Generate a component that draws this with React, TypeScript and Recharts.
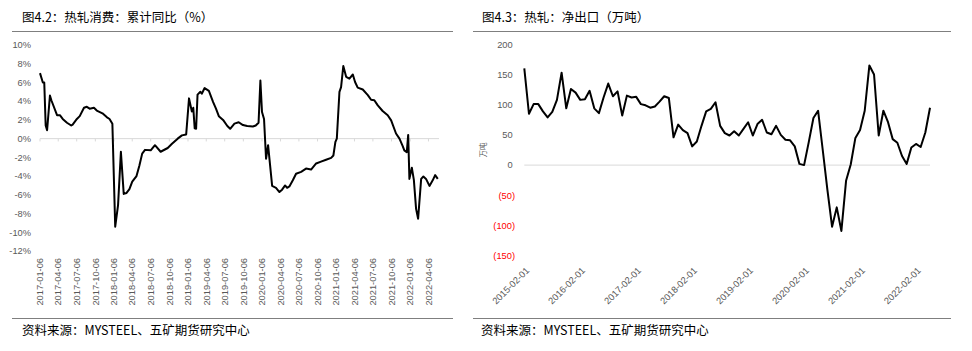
import React from 'react';
import { LineChart, Line, XAxis, YAxis, ReferenceLine } from 'recharts';

// 图4.2 热轧消费：累计同比（%）
const leftDates = [
  '2017-01-06', '2017-01-20', '2017-01-27', '2017-02-03', '2017-02-10', '2017-02-24', '2017-03-03',
  '2017-03-31', '2017-04-14', '2017-04-28', '2017-05-19', '2017-06-09', '2017-06-16', '2017-07-07',
  '2017-07-21', '2017-08-11', '2017-08-25', '2017-09-08', '2017-09-29', '2017-10-13', '2017-11-10',
  '2017-12-01', '2017-12-15', '2017-12-29', '2018-01-12', '2018-01-26', '2018-02-09', '2018-02-23',
  '2018-03-09', '2018-03-23', '2018-04-06', '2018-04-27', '2018-05-11', '2018-05-25', '2018-06-08',
  '2018-07-06', '2018-07-27', '2018-08-24', '2018-09-28', '2018-10-19', '2018-11-16', '2018-12-07',
  '2018-12-28', '2019-01-11', '2019-01-25', '2019-02-01', '2019-02-08', '2019-02-15', '2019-02-22',
  '2019-03-08', '2019-03-15', '2019-03-29', '2019-04-19', '2019-05-10', '2019-05-24', '2019-06-07',
  '2019-06-28', '2019-07-19', '2019-08-02', '2019-08-23', '2019-09-13', '2019-10-04', '2019-10-25',
  '2019-11-22', '2019-12-06', '2019-12-20', '2019-12-29', '2020-01-06', '2020-01-16', '2020-01-26',
  '2020-02-05', '2020-02-25', '2020-03-15', '2020-04-01', '2020-04-14', '2020-04-29', '2020-05-09',
  '2020-05-20', '2020-06-06', '2020-06-22', '2020-07-17', '2020-08-10', '2020-09-04', '2020-09-29',
  '2020-10-23', '2020-11-17', '2020-12-12', '2020-12-23', '2021-01-02', '2021-01-09', '2021-01-22',
  '2021-01-30', '2021-02-10', '2021-02-24', '2021-03-12', '2021-03-29', '2021-04-09', '2021-04-22',
  '2021-05-17', '2021-06-11', '2021-06-27', '2021-07-13', '2021-07-30', '2021-08-23', '2021-09-17',
  '2021-10-04', '2021-10-28', '2021-11-14', '2021-11-30', '2021-12-08', '2021-12-20', '2021-12-27',
  '2022-01-02', '2022-01-14', '2022-01-24', '2022-02-04', '2022-02-14', '2022-03-01', '2022-03-12',
  '2022-03-25', '2022-04-11', '2022-04-27', '2022-05-09', '2022-05-22',
];
const leftValues = [
  7.0, 6.0, 6.0, 1.4, 0.9, 4.6, 4.1,
  2.5, 2.5, 2.1, 1.7, 1.4, 1.5, 2.1,
  2.4, 3.3, 3.4, 3.2, 3.3, 3.0, 2.7,
  2.3, 2.1, 1.6, -9.4, -7.1, -1.4, -5.9,
  -5.8, -5.4, -4.6, -4.0, -2.9, -1.6, -1.2,
  -1.25, -0.7, -1.4, -1.0, -0.55, 0.0, 0.35,
  0.45, 4.3, 2.9, 3.3, 1.1, 1.05, 4.7,
  5.0, 4.8, 5.4, 5.1, 3.9, 3.2, 2.4,
  2.0, 1.35, 1.05, 1.6, 1.75, 1.45, 1.35,
  1.3, 1.4, 1.7, 6.2, 2.85, 2.1, -2.15,
  -0.7, -5.05, -5.25, -5.7, -5.45, -5.0, -5.25,
  -5.1, -4.45, -3.75, -3.55, -3.2, -3.3, -2.65,
  -2.45, -2.25, -2.05, -1.8, -0.35, 0.0, 5.0,
  5.5, 7.75, 6.6, 6.4, 6.85, 6.05, 5.45,
  5.25, 4.65, 4.15, 4.1, 3.55, 2.95, 2.5,
  1.95, 0.55, 0.0, -0.8, -1.25, -1.45, 0.4,
  -4.3, -3.1, -4.4, -7.5, -8.55, -4.3, -4.05,
  -4.3, -5.05, -4.45, -3.9, -4.3,
];
const leftTickDates = [
  '2017-01-06', '2017-04-06', '2017-07-06', '2017-10-06',
  '2018-01-06', '2018-04-06', '2018-07-06', '2018-10-06',
  '2019-01-06', '2019-04-06', '2019-07-06', '2019-10-06',
  '2020-01-06', '2020-04-06', '2020-07-06', '2020-10-06',
  '2021-01-06', '2021-04-06', '2021-07-06', '2021-10-06',
  '2022-01-06', '2022-04-06',
];
const leftYTicks = [-12, -10, -8, -6, -4, -2, 0, 2, 4, 6, 8, 10];

// 图4.3 热轧：净出口（万吨）
const rightMonths = [
  '2015-02-01', '2015-03-01', '2015-04-01', '2015-05-01', '2015-06-01', '2015-07-01', '2015-08-01', '2015-09-01', '2015-10-01', '2015-11-01', '2015-12-01',
  '2016-01-01', '2016-02-01', '2016-03-01', '2016-04-01', '2016-05-01', '2016-06-01', '2016-07-01', '2016-08-01', '2016-09-01', '2016-10-01', '2016-11-01', '2016-12-01',
  '2017-01-01', '2017-02-01', '2017-03-01', '2017-04-01', '2017-05-01', '2017-06-01', '2017-07-01', '2017-08-01', '2017-09-01', '2017-10-01', '2017-11-01', '2017-12-01',
  '2018-01-01', '2018-02-01', '2018-03-01', '2018-04-01', '2018-05-01', '2018-06-01', '2018-07-01', '2018-08-01', '2018-09-01', '2018-10-01', '2018-11-01', '2018-12-01',
  '2019-01-01', '2019-02-01', '2019-03-01', '2019-04-01', '2019-05-01', '2019-06-01', '2019-07-01', '2019-08-01', '2019-09-01', '2019-10-01', '2019-11-01', '2019-12-01',
  '2020-01-01', '2020-02-01', '2020-03-01', '2020-04-01', '2020-05-01', '2020-06-01', '2020-07-01', '2020-08-01', '2020-09-01', '2020-10-01', '2020-11-01', '2020-12-01',
  '2021-01-01', '2021-02-01', '2021-03-01', '2021-04-01', '2021-05-01', '2021-06-01', '2021-07-01', '2021-08-01', '2021-09-01', '2021-10-01', '2021-11-01', '2021-12-01',
  '2022-01-01', '2022-02-01', '2022-03-01', '2022-04-01', '2022-05-01',
];
const rightValues = [
  160, 85, 101, 101, 89, 79, 88, 108, 153, 94, 126,
  120, 108, 109, 123, 94, 86, 112, 135, 114, 122, 82, 115,
  112, 113, 101, 99, 95, 97, 105, 114, 111, 46, 67, 58,
  53, 31, 39, 65, 89, 93, 104, 65, 53, 49, 56, 49,
  60, 71, 49, 68, 75, 54, 51, 65, 50, 42, 41, 31,
  2, 0, 38, 78, 90, 25, -41, -102, -70, -109, -26, 1,
  45, 58, 90, 165, 150, 49, 90, 71, 43, 37, 15, 2,
  29, 35, 30, 54, 95,
];
const rightYTicks = [-150, -100, -50, 0, 50, 100, 150, 200];

const leftData = leftDates.map((d, i) => ({ t: Date.parse(d), v: leftValues[i] }));
const leftTicks = leftTickDates.map((d) => Date.parse(d));
const rightData = rightMonths.map((m, i) => ({ month: m, v: rightValues[i] }));

const AXIS_FONT = '"Liberation Sans", Arial, sans-serif';
const CJK_FONT = '"Noto Sans CJK SC", "Noto Sans", sans-serif';
const GRAY = '#595959';

const fmtDate = (t: number) => new Date(t).toISOString().slice(0, 10);

const LeftXTick = ({ x, y, payload }: any) => (
  <text
    x={x}
    y={y}
    transform={`rotate(-90 ${x} ${y})`}
    textAnchor="end"
    dy="0.35em"
    fontSize={9.3}
    fontFamily={AXIS_FONT}
    fill={GRAY}
  >
    {fmtDate(payload.value)}
  </text>
);

const RightXTick = ({ x, y, payload }: any) => {
  const ax = x + 5.5;
  const ay = y + 15.5;
  return (
    <text
      x={ax}
      y={ay}
      transform={`rotate(-45 ${ax} ${ay})`}
      textAnchor="end"
      fontSize={9.3}
      fontFamily={AXIS_FONT}
      fill={GRAY}
    >
      {payload.value}
    </text>
  );
};

const RightYTick = ({ x, y, payload }: any) => {
  const v = payload.value as number;
  const neg = v < 0;
  return (
    <text
      x={neg ? x - 9.3 : x - 11.6}
      y={y}
      dy="0.35em"
      textAnchor="end"
      fontSize={9.3}
      fontFamily={AXIS_FONT}
      fill={neg ? '#FF0000' : GRAY}
    >
      {neg ? `(${-v})` : `${v}`}
    </text>
  );
};

const UnitLabel = ({ viewBox }: any) => {
  const cx = viewBox.x + 11;
  const cy = viewBox.y + viewBox.height / 2;
  return (
    <text
      x={cx}
      y={cy}
      transform={`rotate(-90 ${cx} ${cy})`}
      textAnchor="middle"
      dy="0.35em"
      fontSize={7.5}
      fontFamily={CJK_FONT}
      fill={GRAY}
    >
      万吨
    </text>
  );
};

const rule = (left: number, top: number, width: number): React.CSSProperties => ({
  position: 'absolute',
  left,
  top,
  width,
  height: 0,
  borderTop: '1.2px solid #7f7f7f',
});

const caption = (left: number, top: number): React.CSSProperties => ({
  position: 'absolute',
  left,
  top,
  fontFamily: CJK_FONT,
  fontSize: 12.5,
  lineHeight: '15px',
  color: '#000',
  whiteSpace: 'nowrap',
});

export default function App() {
  return (
    <div style={{ position: 'absolute', left: 0, top: 0, width: 972, height: 351, background: '#fff' }}>
      <div style={caption(22, 9)}>图4.2：热轧消费：累计同比（%）</div>
      <div style={rule(12, 31, 441)} />
      <div style={caption(482, 9)}>图4.3：热轧：净出口（万吨）</div>
      <div style={rule(473, 31, 478)} />

      <div style={{ position: 'absolute', left: 0, top: 0 }}>
        <LineChart width={486} height={351} data={leftData} margin={{ top: 45, right: 47, bottom: 40, left: 0 }}>
          <XAxis
            dataKey="t"
            type="number"
            scale="time"
            domain={[Date.parse('2017-01-06'), Date.parse('2022-05-28')]}
            ticks={leftTicks}
            interval={0}
            axisLine={false}
            tickLine={false}
            tickSize={0}
            tickMargin={7}
            height={60}
            tick={<LeftXTick />}
          />
          <YAxis
            domain={[-12, 10]}
            ticks={leftYTicks}
            interval={0}
            width={40}
            axisLine={false}
            tickLine={false}
            tickSize={0}
            tickMargin={9}
            tickFormatter={(v: number) => `${v}%`}
            tick={{ fontSize: 9.3, fontFamily: AXIS_FONT, fill: GRAY }}
          />
          <ReferenceLine y={0} stroke="#d9d9d9" strokeWidth={1} />
          {leftTicks.map((t) => (
            <ReferenceLine
              key={t}
              segment={[{ x: t, y: 0 }, { x: t, y: -0.3 }]}
              stroke="#d9d9d9"
              strokeWidth={1}
            />
          ))}
          <Line
            type="linear"
            dataKey="v"
            stroke="#000"
            strokeWidth={2}
            dot={false}
            strokeLinejoin="round"
            isAnimationActive={false}
          />
        </LineChart>
      </div>

      <div style={{ position: 'absolute', left: 472, top: 0 }}>
        <LineChart width={500} height={351} data={rightData} margin={{ top: 44.3, right: 42, bottom: 35.3, left: 0 }}>
          <XAxis
            dataKey="month"
            interval={11}
            axisLine={false}
            tickLine={false}
            tickSize={0}
            tickMargin={0}
            height={60}
            tick={<RightXTick />}
          />
          <YAxis
            domain={[-150, 200]}
            ticks={rightYTicks}
            interval={0}
            width={52.3}
            axisLine={false}
            tickLine={false}
            tickSize={0}
            tickMargin={0}
            tick={<RightYTick />}
            label={<UnitLabel />}
          />
          <ReferenceLine y={0} stroke="#d9d9d9" strokeWidth={1} />
          <Line
            type="linear"
            dataKey="v"
            stroke="#000"
            strokeWidth={2}
            dot={false}
            strokeLinejoin="round"
            isAnimationActive={false}
          />
        </LineChart>
      </div>

      <div style={rule(12, 318, 441)} />
      <div style={caption(22, 322)}>资料来源：MYSTEEL、五矿期货研究中心</div>
      <div style={rule(473, 318, 478)} />
      <div style={caption(481, 322)}>资料来源：MYSTEEL、五矿期货研究中心</div>
    </div>
  );
}
